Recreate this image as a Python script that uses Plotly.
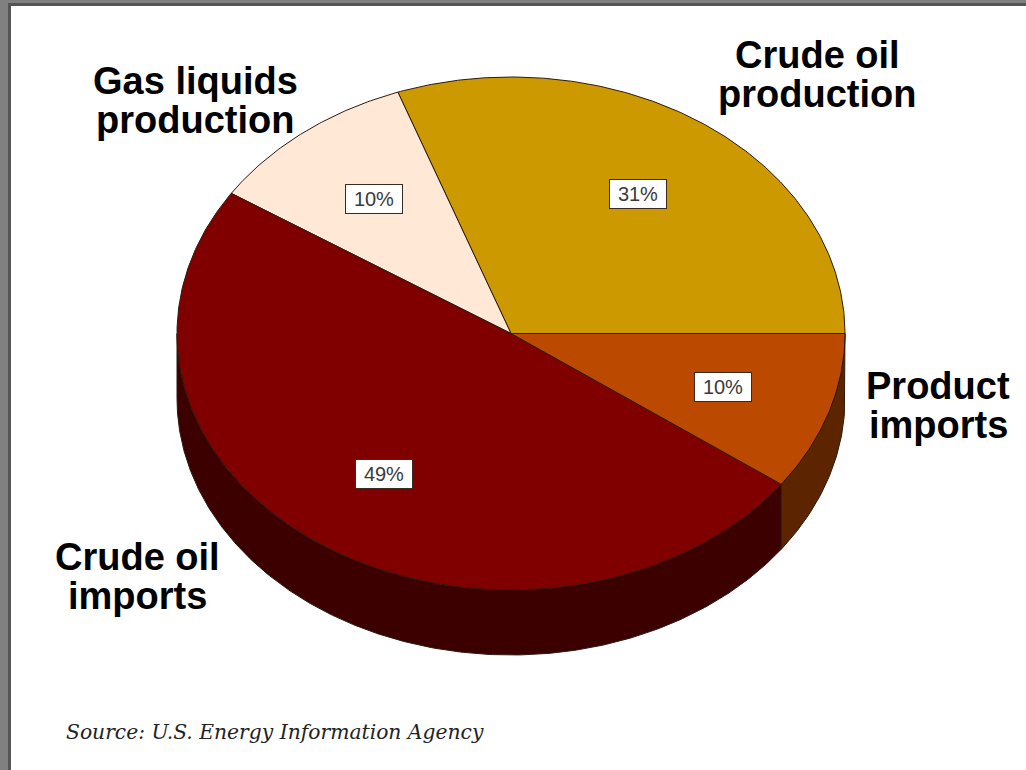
import numpy as np
import plotly.graph_objects as go

categories = ["Crude oil production", "Gas liquids production", "Crude oil imports", "Product imports"]
slice_values = [30.5, 10.3, 49.2, 10.0]
value_labels = ["31%", "10%", "49%", "10%"]
top_colors = ["#CC9900", "#FFE8D6", "#800000", "#BB4A00"]
side_colors = ["#664C00", "#80746B", "#3D0000", "#5C2500"]
title_lines = [["Crude oil", "production"], ["Gas liquids", "production"], ["Crude oil", "imports"], ["Product", "imports"]]
title_pos = [(817, 74), (195, 100), (137, 576), (938, 405)]
box_pos = [(638, 194), (374, 199), (384, 474), (723, 387)]
source_text = "Source: U.S. Energy Information Agency"

CX, CY, RX, RY, DEPTH = 511, 333.5, 334, 256.5, 65
OUTLINE = "#2a1a10"

fractions = np.cumsum([0] + slice_values) / sum(slice_values)
fig = go.Figure()


def arc(a0, a1):
    t = np.radians(np.linspace(a0, a1, max(int(abs(a1 - a0) * 2), 2)))
    return CX + RX * np.cos(t), CY - RY * np.sin(t)


# side walls (only the front half of the ellipse is visible)
for i in range(len(slice_values)):
    a0, a1 = max(fractions[i] * 360, 180), fractions[i + 1] * 360
    if a1 <= a0:
        continue
    x, y = arc(a0, a1)
    fig.add_trace(go.Scatter(
        x=np.r_[x, x[::-1], x[0]], y=np.r_[y, y[::-1] + DEPTH, y[0]],
        mode="lines", fill="toself", fillcolor=side_colors[i],
        line=dict(color=OUTLINE, width=1), hoverinfo="skip", showlegend=False))

# top faces
for i, name in enumerate(categories):
    x, y = arc(fractions[i] * 360, fractions[i + 1] * 360)
    fig.add_trace(go.Scatter(
        x=np.r_[CX, x, CX], y=np.r_[CY, y, CY],
        mode="lines", fill="toself", fillcolor=top_colors[i],
        line=dict(color=OUTLINE, width=1), name=name, showlegend=False))

for lines, (x, y) in zip(title_lines, title_pos):
    for line, dy in zip(lines, (-19.5, 19.5)):
        fig.add_annotation(x=x, y=y + dy, text="<b>" + line + "</b>", showarrow=False,
                           xanchor="center", yanchor="middle",
                           font=dict(family="Liberation Sans", size=38, color="#000000"))

for label, (x, y) in zip(value_labels, box_pos):
    fig.add_annotation(x=x, y=y, text=label, showarrow=False, xanchor="center", yanchor="middle",
                       width=54, height=26, align="center", bgcolor="#FFFFFF",
                       bordercolor="#3a2a20", borderwidth=1, borderpad=1,
                       font=dict(family="Liberation Sans", size=20, color="#3a3a3a"))

fig.add_annotation(x=64, y=732, text="<i>" + source_text + "</i>", showarrow=False, xanchor="left", yanchor="middle",
                   font=dict(family="DejaVu Serif", size=20.3, color="#222222"))

frame = [
    (0, 0, 8, 770, "#808080"), (0, 0, 1026, 3, "#808080"),
    (8, 3, 11, 770, "#555555"), (8, 3, 1026, 6, "#555555"),
]
shapes = [dict(type="rect", xref="x", yref="y", x0=a, y0=b, x1=c, y1=d, fillcolor=col,
               line=dict(width=0), layer="above") for a, b, c, d, col in frame]

fig.update_layout(
    width=1026, height=770, autosize=False, margin=dict(l=0, r=0, t=0, b=0),
    paper_bgcolor="#FFFFFF", plot_bgcolor="#FFFFFF", shapes=shapes, showlegend=False,
    xaxis=dict(range=[0, 1026], visible=False, fixedrange=True),
    yaxis=dict(range=[770, 0], visible=False, fixedrange=True),
)
fig.write_html("out.html", config=dict(displayModeBar=False),
               post_script="document.body.style.margin='0';document.body.style.overflow='hidden';")
